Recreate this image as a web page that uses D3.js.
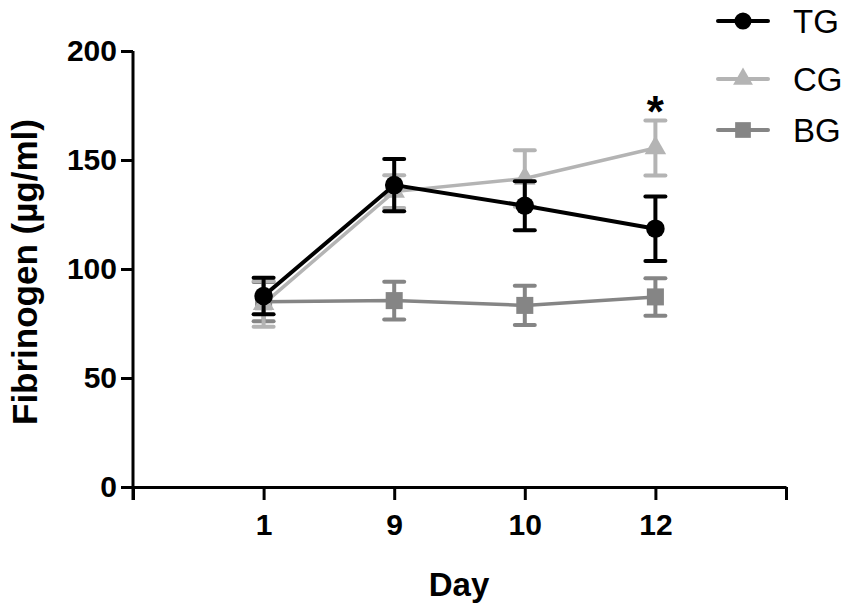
<!DOCTYPE html>
<html>
<head>
<meta charset="utf-8">
<script src="https://cdn.jsdelivr.net/npm/d3@7"></script>
<style>
  body { margin: 0; background: #fff; }
  svg { display: block; font-family: "Liberation Sans", Arial, sans-serif; }
</style>
</head>
<body>
<svg id="chart" width="851" height="611"></svg>
<script>
// --- Data ------------------------------------------------------------
const days = ['1', '9', '10', '12'];

const tgMean = [87.6, 138.5, 129, 118.5];
const tgErr  = [8.4, 12, 11.2, 14.8];

const cgMean = [84, 135.5, 141.5, 155.5];
const cgErr  = [10.5, 7.5, 13, 12.6];

const bgMean = [85, 85.5, 83.3, 87.2];
const bgErr  = [9, 8.7, 9, 8.6];

const yTicks = [0, 50, 100, 150, 200];

const groups = [
  { name: 'TG', mean: tgMean, err: tgErr, color: '#000000', symbol: d3.symbolCircle, size: 270 },
  { name: 'CG', mean: cgMean, err: cgErr, color: '#b4b4b4', symbol: d3.symbolTriangle, size: 200 },
  { name: 'BG', mean: bgMean, err: bgErr, color: '#858585', symbol: d3.symbolSquare, size: 290 },
];

// --- Scales ----------------------------------------------------------
const svg = d3.select('#chart');

// day categories sit at 1..4 on a 0..5 axis, like the original prism-style layout
const x = d3.scaleLinear().domain([0, days.length + 1]).range([133, 786]);
const y = d3.scaleLinear().domain([0, 200]).range([487, 51]);

// --- Axes ------------------------------------------------------------
const yAxis = svg.append('g')
  .attr('transform', `translate(${x(0)},0)`)
  .call(d3.axisLeft(y).tickValues(yTicks).tickSize(12).tickPadding(4).tickSizeOuter(0));

const xAxis = svg.append('g')
  .attr('transform', `translate(0,${y(0)})`)
  .call(d3.axisBottom(x)
    .tickValues(d3.range(0, days.length + 2))
    .tickFormat(i => (i >= 1 && i <= days.length) ? days[i - 1] : '')
    .tickSize(13).tickPadding(14).tickSizeOuter(0));

[yAxis, xAxis].forEach(ax => {
  ax.select('.domain').attr('stroke', '#000').attr('stroke-width', 3);
  ax.selectAll('.tick line').attr('stroke', '#000').attr('stroke-width', 3);
  ax.selectAll('.tick text')
    .attr('fill', '#000')
    .style('font-size', '30px')
    .style('font-weight', 'bold');
});
// the y axis runs a little below zero, as in the original
yAxis.select('.domain').attr('d', `M0,${y(200)}V${y(0) + 13}`);

svg.append('text')
  .attr('x', 459).attr('y', 596)
  .attr('text-anchor', 'middle')
  .style('font-size', '33px').style('font-weight', 'bold')
  .text('Day');

svg.append('text')
  .attr('transform', `translate(37,${y(100) + 3}) rotate(-90)`)
  .attr('text-anchor', 'middle')
  .style('font-size', '35px').style('font-weight', 'bold')
  .text('Fibrinogen (µg/ml)');

// --- Series ----------------------------------------------------------
const line = d3.line().x((d, i) => x(i + 1)).y(d => y(d));

// draw lighter groups first so TG ends up on top
[groups[2], groups[1], groups[0]].forEach(gp => {
  const g = svg.append('g');
  const pts = gp.mean.map((m, i) => ({ i, m, e: gp.err[i] }));

  g.append('path')
    .datum(gp.mean)
    .attr('d', line)
    .attr('fill', 'none')
    .attr('stroke', gp.color)
    .attr('stroke-width', gp.name === 'TG' ? 4 : 3.5);

  const bars = g.selectAll('g.err').data(pts).join('g').attr('class', 'err');
  bars.append('line')
    .attr('x1', d => x(d.i + 1)).attr('x2', d => x(d.i + 1))
    .attr('y1', d => y(d.m - d.e)).attr('y2', d => y(d.m + d.e))
    .attr('stroke', gp.color).attr('stroke-width', 4);
  [-1, 1].forEach(s => {
    bars.append('line')
      .attr('x1', d => x(d.i + 1) - 10).attr('x2', d => x(d.i + 1) + 10)
      .attr('y1', d => y(d.m + s * d.e)).attr('y2', d => y(d.m + s * d.e))
      .attr('stroke', gp.color).attr('stroke-width', 4)
      .attr('stroke-linecap', 'round');
  });

  g.selectAll('path.mark').data(pts).join('path')
    .attr('class', 'mark')
    .attr('transform', d => `translate(${x(d.i + 1)},${y(d.m)})`)
    .attr('d', d3.symbol().type(gp.symbol).size(gp.size))
    .attr('fill', gp.color);
});

// significance star above CG on day 12
const last = days.length - 1;
svg.append('text')
  .attr('x', x(last + 1)).attr('y', y(cgMean[last] + cgErr[last]) + 6)
  .attr('text-anchor', 'middle')
  .style('font-size', '44px').style('font-weight', 'bold')
  .text('*');

// --- Legend ----------------------------------------------------------
const legend = svg.append('g').attr('transform', 'translate(718,0)');
const legendY = [21, 79, 130];
groups.forEach((gp, i) => {
  const row = legend.append('g').attr('transform', `translate(0,${legendY[i]})`);
  row.append('line')
    .attr('x1', 0).attr('x2', 50)
    .attr('stroke', gp.color).attr('stroke-width', 4)
    .attr('stroke-linecap', 'round');
  row.append('path')
    .attr('transform', 'translate(25,0)')
    .attr('d', d3.symbol().type(gp.symbol).size(gp.size * 0.85))
    .attr('fill', gp.color);
  row.append('text')
    .attr('x', 75).attr('dy', '0.36em')
    .style('font-size', '33px')
    .text(gp.name);
});
</script>
</body>
</html>
